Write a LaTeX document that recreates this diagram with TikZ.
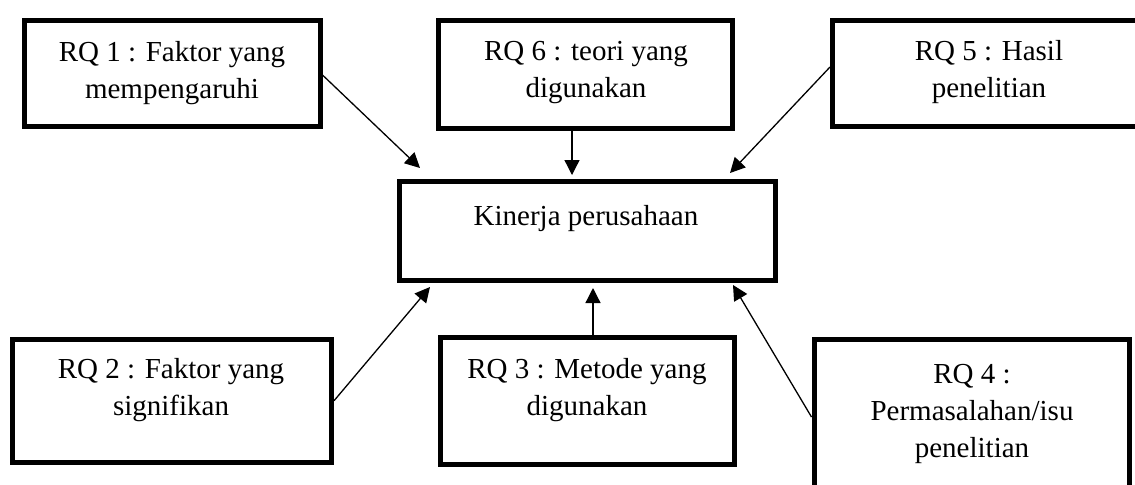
\documentclass[tikz,border=0pt]{standalone}
\usepackage{fontspec}
\setmainfont{Liberation Serif}
\usetikzlibrary{arrows.meta}
\begin{document}
\begin{tikzpicture}[x=0.5pt,y=-0.5pt,
  box/.style={draw, rectangle, line width=2.5pt, inner sep=0pt},
  lbl/.style={font=\fontsize{14.5pt}{18.5pt}\selectfont, align=center, inner sep=0pt, anchor=north},
  conn/.style={line width=0.65pt, -{Triangle[length=7.5pt,width=7.5pt]}}]
\useasboundingbox (0,0) rectangle (1135,484);
\clip (0,0) rectangle (1135,484);
% boxes
\node[box, minimum width=147.75pt, minimum height=53pt] (rq1) at (172.25,73) {};
\node[box, minimum width=146.75pt, minimum height=54pt] (rq6) at (585.25,74) {};
\node[box, minimum width=156.75pt, minimum height=53pt] (rq5) at (989.25,73) {};
\node[box, minimum width=188pt, minimum height=49.5pt] (ctr) at (587,230.5) {};
\node[box, minimum width=159.5pt, minimum height=61.75pt] (rq2) at (172,400.75) {};
\node[box, minimum width=147pt, minimum height=63.25pt] (rq3) at (587,400.75) {};
\node[box, minimum width=157.5pt, minimum height=83pt] (rq4) at (971.5,422) {};
% labels
\node[lbl] (l1) at (172,41) {RQ 1 : Faktor yang\\mempengaruhi};
\node[lbl] (l6) at (586,41) {RQ 6 : teori yang\\digunakan};
\node[lbl] (l5) at (989,40) {RQ 5 : Hasil\\penelitian};
\node[lbl] (lc) at (586,205) {Kinerja perusahaan};
\node[lbl] (l2) at (171,358) {RQ 2 : Faktor yang\\signifikan};
\node[lbl] (l3) at (587,358) {RQ 3 : Metode yang\\digunakan};
\node[lbl] (l4) at (972,364) {RQ 4 :\\Permasalahan/isu\\penelitian};
% arrow tips
\coordinate (t1) at (420,168);
\coordinate (t6) at (572,175);
\coordinate (t5) at (730,173);
\coordinate (t2) at (430,287);
\coordinate (t3) at (593,288);
\coordinate (t4) at (733,285);
% connectors
\draw[conn] ([yshift=-1pt]rq1.east) -- (t1);
\draw[conn] (t6 |- rq6.south) -- (t6);
\draw[conn] ([yshift=3pt]rq5.west) -- (t5);
\draw[conn] (rq2.east) -- (t2);
\draw[conn] (t3 |- rq3.north) -- (t3);
\draw[conn] ([yshift=2.5pt]rq4.west) -- (t4);
\end{tikzpicture}
\end{document}
